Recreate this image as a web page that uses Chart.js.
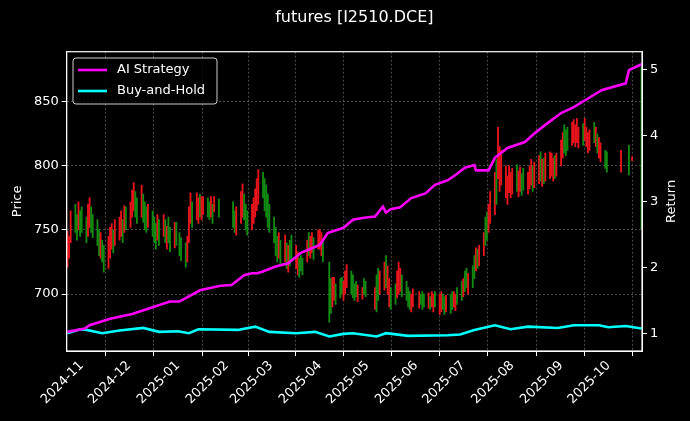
<!DOCTYPE html>
<html>
<head>
<meta charset="utf-8">
<script src="https://cdn.jsdelivr.net/npm/chart.js@4.4.1/dist/chart.umd.min.js"></script>
<style>
  html, body { margin: 0; padding: 0; background: #000; }
  #wrap { width: 690px; height: 421px; }
</style>
</head>
<body>
<div id="wrap"><canvas id="chart" width="690" height="421"></canvas></div>
<script>
// candle ranges per trading day, 2024-10-23 .. 2025-09-30, then a few October days
const lows = [
  721,728,740,748,742,750,745,
  748,740,745,752,748,744,738,730,728,725,717,720,728,735,732,738,742,745,740,748,750,
  752,760,765,760,755,760,756,750,748,752,745,740,735,742,738,745,740,735,740,733,736,738,
  730,726,721,725,740,755,752,758,755,760,758,762,760,758,760,755,764,760,
  752,748,746,755,760,758,750,746,750,755,760,765,770,775,765,760,752,748,
  740,730,725,728,723,725,720,717,722,726,720,715,713,718,715,725,730,728,732,727,735,
  735,730,725,678,685,690,695,692,697,700,695,700,705,700,697,695,698,694,696,700,698,
  688,686,695,700,703,705,700,690,688,692,697,700,702,698,695,690,688,686,690,
  689,692,688,690,689,688,690,686,690,684,686,688,684,686,685,688,690,687,692,695,
  698,702,705,700,705,712,718,720,722,730,738,742,748,755,762,770,790,780,785,775,770,779,775,
  778,780,776,780,777,781,778,782,785,780,783,786,788,784,786,788,790,792,788,790,792,
  800,806,810,808,812,816,818,815,818,814,816,820,815,810,812,818,815,810,806,803,798,795
];
const highs = [
  749,745,765,770,762,772,765,
  768,760,770,775,768,762,758,750,748,742,738,745,752,755,750,758,760,765,758,769,768,
  772,781,787,780,775,785,778,772,768,770,765,760,755,762,758,762,758,753,760,752,756,756,
  748,744,740,745,768,779,772,779,775,778,776,776,775,772,776,770,776,774,
  772,765,768,780,786,778,770,765,770,775,782,790,797,795,790,785,778,770,
  760,752,745,748,742,746,740,738,742,746,738,733,728,730,728,742,748,745,748,744,750,
  750,748,742,725,712,713,713,708,712,713,710,718,723,718,715,708,710,707,705,712,710,
  705,715,720,718,725,730,722,712,705,708,718,725,720,715,710,705,702,700,704,
  702,700,702,700,701,698,702,700,702,700,702,700,698,699,700,702,702,700,705,710,
  712,718,720,716,722,730,736,735,738,748,760,764,770,780,795,805,830,815,812,800,792,800,795,
  798,801,796,799,794,798,795,800,805,800,803,808,811,805,806,810,811,810,806,808,810,
  820,826,832,828,830,834,836,832,837,830,833,837,830,826,828,834,830,825,822,818,812,811
];
// u = close above open (red), d = close below open (green), one string per month
const dirs = [
  "uuuddud",
  "dduuddddudduuuduuudud",
  "uuuddudddudddudududdud",
  "ddduuuduuduuddudud",
  "dduuuddduuuuuddddd",
  "dddudududduuddduduuduu",
  "uddduuddduuudddduuddud",
  "duuduudduuudddduuudddu",
  "duuduuddudduuddudduddu",
  "duudduuuduuuuuuuuduudd",
  "uuuduududuuuuduuuddduu",
  "uuuduuuududuudduddddddd"
].join("");
const lateDates = ["2025-10-09", "2025-10-14", "2025-10-16", "2025-10-22"];
const lateLows = [795, 793, 804, 751];
const lateHighs = [812, 816, 807, 877];
const lateDirs = "udud";

const holidays = ["2025-01-01", "2025-01-28", "2025-01-29", "2025-01-30", "2025-01-31", "2025-02-03", "2025-02-04",
  "2025-04-04", "2025-05-01", "2025-05-02", "2025-05-05", "2025-06-02"];

const aiDates = ["2024-10-23", "2024-11-03", "2024-11-06", "2024-11-19", "2024-12-03", "2024-12-14", "2024-12-27",
  "2025-01-02", "2025-01-15", "2025-01-28", "2025-02-04", "2025-02-12", "2025-02-17", "2025-02-20", "2025-02-23",
  "2025-03-04", "2025-03-12", "2025-03-20", "2025-04-01", "2025-04-06", "2025-04-16", "2025-04-22", "2025-04-29",
  "2025-05-06", "2025-05-11", "2025-05-13", "2025-05-16", "2025-05-22", "2025-05-29", "2025-06-07", "2025-06-13",
  "2025-06-21", "2025-06-26", "2025-07-02", "2025-07-08", "2025-07-09", "2025-07-17", "2025-07-21", "2025-07-29",
  "2025-08-09", "2025-08-15", "2025-08-22", "2025-09-01", "2025-09-09", "2025-09-18", "2025-09-27", "2025-10-12",
  "2025-10-14", "2025-10-22"];
const aiReturn = [1.02, 1.07, 1.12, 1.22, 1.29, 1.38, 1.48,
  1.48, 1.65, 1.72, 1.73, 1.88, 1.91, 1.91, 1.93,
  2.01, 2.06, 2.22, 2.34, 2.52, 2.60, 2.72, 2.75,
  2.77, 2.92, 2.83, 2.88, 2.91, 3.05, 3.12, 3.25,
  3.32, 3.40, 3.51, 3.55, 3.47, 3.47, 3.66, 3.81,
  3.90, 4.03, 4.16, 4.34, 4.43, 4.56, 4.69, 4.79,
  4.99, 5.08];

const bhDates = ["2024-10-23", "2024-10-31", "2024-11-04", "2024-11-14", "2024-11-25", "2024-12-10", "2024-12-20",
  "2025-01-01", "2025-01-08", "2025-01-14", "2025-02-08", "2025-02-19", "2025-02-28", "2025-03-17", "2025-03-29",
  "2025-04-07", "2025-04-16", "2025-04-22", "2025-05-07", "2025-05-13", "2025-05-27", "2025-06-21", "2025-06-29",
  "2025-07-08", "2025-07-21", "2025-07-31", "2025-08-11", "2025-08-30", "2025-09-09", "2025-09-25", "2025-10-01",
  "2025-10-12", "2025-10-22"];
const bhReturn = [1.00, 1.06, 1.05, 1.00, 1.04, 1.08, 1.02,
  1.03, 1.00, 1.06, 1.05, 1.10, 1.02, 1.00, 1.02,
  0.95, 0.99, 1.00, 0.95, 1.00, 0.96, 0.97, 0.98,
  1.05, 1.12, 1.06, 1.10, 1.08, 1.12, 1.12, 1.09,
  1.11, 1.07];

const priceTicks = [700, 750, 800, 850];
const returnTicks = [1, 2, 3, 4, 5];

// day number counted from 2024-11-01
function dayNum(s) {
  const p = s.split("-").map(Number);
  return (Date.UTC(p[0], p[1] - 1, p[2]) - Date.UTC(2024, 10, 1)) / 864e5;
}
function fmt(d) {
  return d.toISOString().slice(0, 10);
}

// trading days: weekdays minus holidays
const tradeDays = [];
for (let t = Date.UTC(2024, 9, 23); t <= Date.UTC(2025, 8, 30); t += 864e5) {
  const d = new Date(t);
  const wd = d.getUTCDay();
  if (wd === 0 || wd === 6) continue;
  if (holidays.includes(fmt(d))) continue;
  tradeDays.push(fmt(d));
}

const RED = "#e8141c", GREEN = "#118a11";
const candles = [];
const candleColors = [];
tradeDays.forEach((ds, i) => {
  if (lows[i] === undefined) return;
  candles.push({ x: dayNum(ds), y: [lows[i], highs[i]] });
  candleColors.push(dirs[i] === "u" ? RED : GREEN);
});
lateDates.forEach((ds, i) => {
  candles.push({ x: dayNum(ds), y: [lateLows[i], lateHighs[i]] });
  candleColors.push(lateDirs[i] === "u" ? RED : GREEN);
});

const monthTicks = [];
for (let m = 0; m < 12; m++) {
  monthTicks.push(dayNum(fmt(new Date(Date.UTC(2024, 10 + m, 1)))));
}

const font = { family: "DejaVu Sans", size: 13 };

const framePlugin = {
  id: "frame",
  afterDraw(chart) {
    const ctx = chart.ctx;
    const a = chart.chartArea;
    ctx.save();
    ctx.strokeStyle = "#ffffff";
    ctx.lineWidth = 1.2;
    ctx.strokeRect(a.left, a.top, a.right - a.left, a.bottom - a.top);

    // title
    ctx.fillStyle = "#ffffff";
    ctx.font = "16px 'DejaVu Sans'";
    ctx.textAlign = "center";
    ctx.textBaseline = "middle";
    ctx.fillText("futures [I2510.DCE]", (a.left + a.right) / 2, 18);

    // right axis title, reading bottom to top
    ctx.font = "13px 'DejaVu Sans'";
    ctx.save();
    ctx.translate(672, (a.top + a.bottom) / 2);
    ctx.rotate(-Math.PI / 2);
    ctx.fillText("Return", 0, 0);
    ctx.restore();

    // legend box
    const bx = 73, by = 58, bw = 144, bh = 46;
    ctx.fillStyle = "rgba(0,0,0,0.8)";
    ctx.strokeStyle = "#cccccc";
    ctx.lineWidth = 1;
    ctx.beginPath();
    ctx.roundRect(bx, by, bw, bh, 3);
    ctx.fill();
    ctx.stroke();
    const items = [["AI Strategy", "#ff00ff", 70], ["Buy-and-Hold", "#00ffff", 91]];
    ctx.textAlign = "left";
    items.forEach(([label, color, y]) => {
      ctx.strokeStyle = color;
      ctx.lineWidth = 2.6;
      ctx.beginPath();
      ctx.moveTo(78, y);
      ctx.lineTo(107, y);
      ctx.stroke();
      ctx.fillStyle = "#ffffff";
      ctx.fillText(label, 117, y);
    });
    ctx.restore();
  }
};

new Chart(document.getElementById("chart"), {
  type: "bar",
  data: {
    datasets: [
      {
        type: "line",
        label: "AI Strategy",
        data: aiDates.map((d, i) => ({ x: dayNum(d), y: aiReturn[i] })),
        yAxisID: "y2",
        borderColor: "#ff00ff",
        borderWidth: 2.6,
        pointRadius: 0,
        order: 1
      },
      {
        type: "line",
        label: "Buy-and-Hold",
        data: bhDates.map((d, i) => ({ x: dayNum(d), y: bhReturn[i] })),
        yAxisID: "y2",
        borderColor: "#00ffff",
        borderWidth: 2.6,
        pointRadius: 0,
        order: 2
      },
      {
        label: "Price",
        data: candles,
        yAxisID: "y",
        backgroundColor: candleColors,
        barThickness: 1.2,
        order: 3
      }
    ]
  },
  options: {
    responsive: false,
    animation: false,
    devicePixelRatio: 1,
    layout: { padding: { top: 51.7, left: 0, right: 0, bottom: 0 } },
    plugins: { legend: { display: false }, tooltip: { enabled: false } },
    scales: {
      x: {
        type: "linear",
        min: -9.5,
        max: 355.3,
        offset: false,
        afterBuildTicks: (s) => { s.ticks = monthTicks.map(v => ({ value: v })); },
        afterFit: (s) => { s.height = 70; },
        ticks: {
          color: "#ffffff",
          font: font,
          minRotation: 45,
          maxRotation: 45,
          padding: 2,
          callback: (v) => {
            const d = new Date(Date.UTC(2024, 10, 1) + v * 864e5);
            return fmt(d).slice(0, 7);
          }
        },
        grid: { color: "#4a4a4a", tickColor: "#ffffff", tickLength: 5, tickBorderDash: [] },
        border: { color: "#ffffff", dash: [2, 2] }
      },
      y: {
        position: "left",
        min: 655.6,
        max: 889,
        afterBuildTicks: (s) => { s.ticks = priceTicks.map(v => ({ value: v })); },
        afterFit: (s) => { s.width = 66.7; },
        ticks: { color: "#ffffff", font: font, padding: 3 },
        grid: { color: "#4a4a4a", tickColor: "#ffffff", tickLength: 5, tickBorderDash: [] },
        border: { color: "#ffffff", dash: [2, 2] },
        title: { display: true, text: "Price", color: "#ffffff", font: font, padding: { top: 10, bottom: 0 } }
      },
      y2: {
        position: "right",
        min: 0.73,
        max: 5.27,
        afterBuildTicks: (s) => { s.ticks = returnTicks.map(v => ({ value: v })); },
        afterFit: (s) => { s.width = 48; },
        ticks: { color: "#ffffff", font: font, padding: 3 },
        grid: { drawOnChartArea: false, tickColor: "#ffffff", tickLength: 5 },
        border: { color: "#ffffff" }
      }
    }
  },
  plugins: [framePlugin]
});
</script>
</body>
</html>
